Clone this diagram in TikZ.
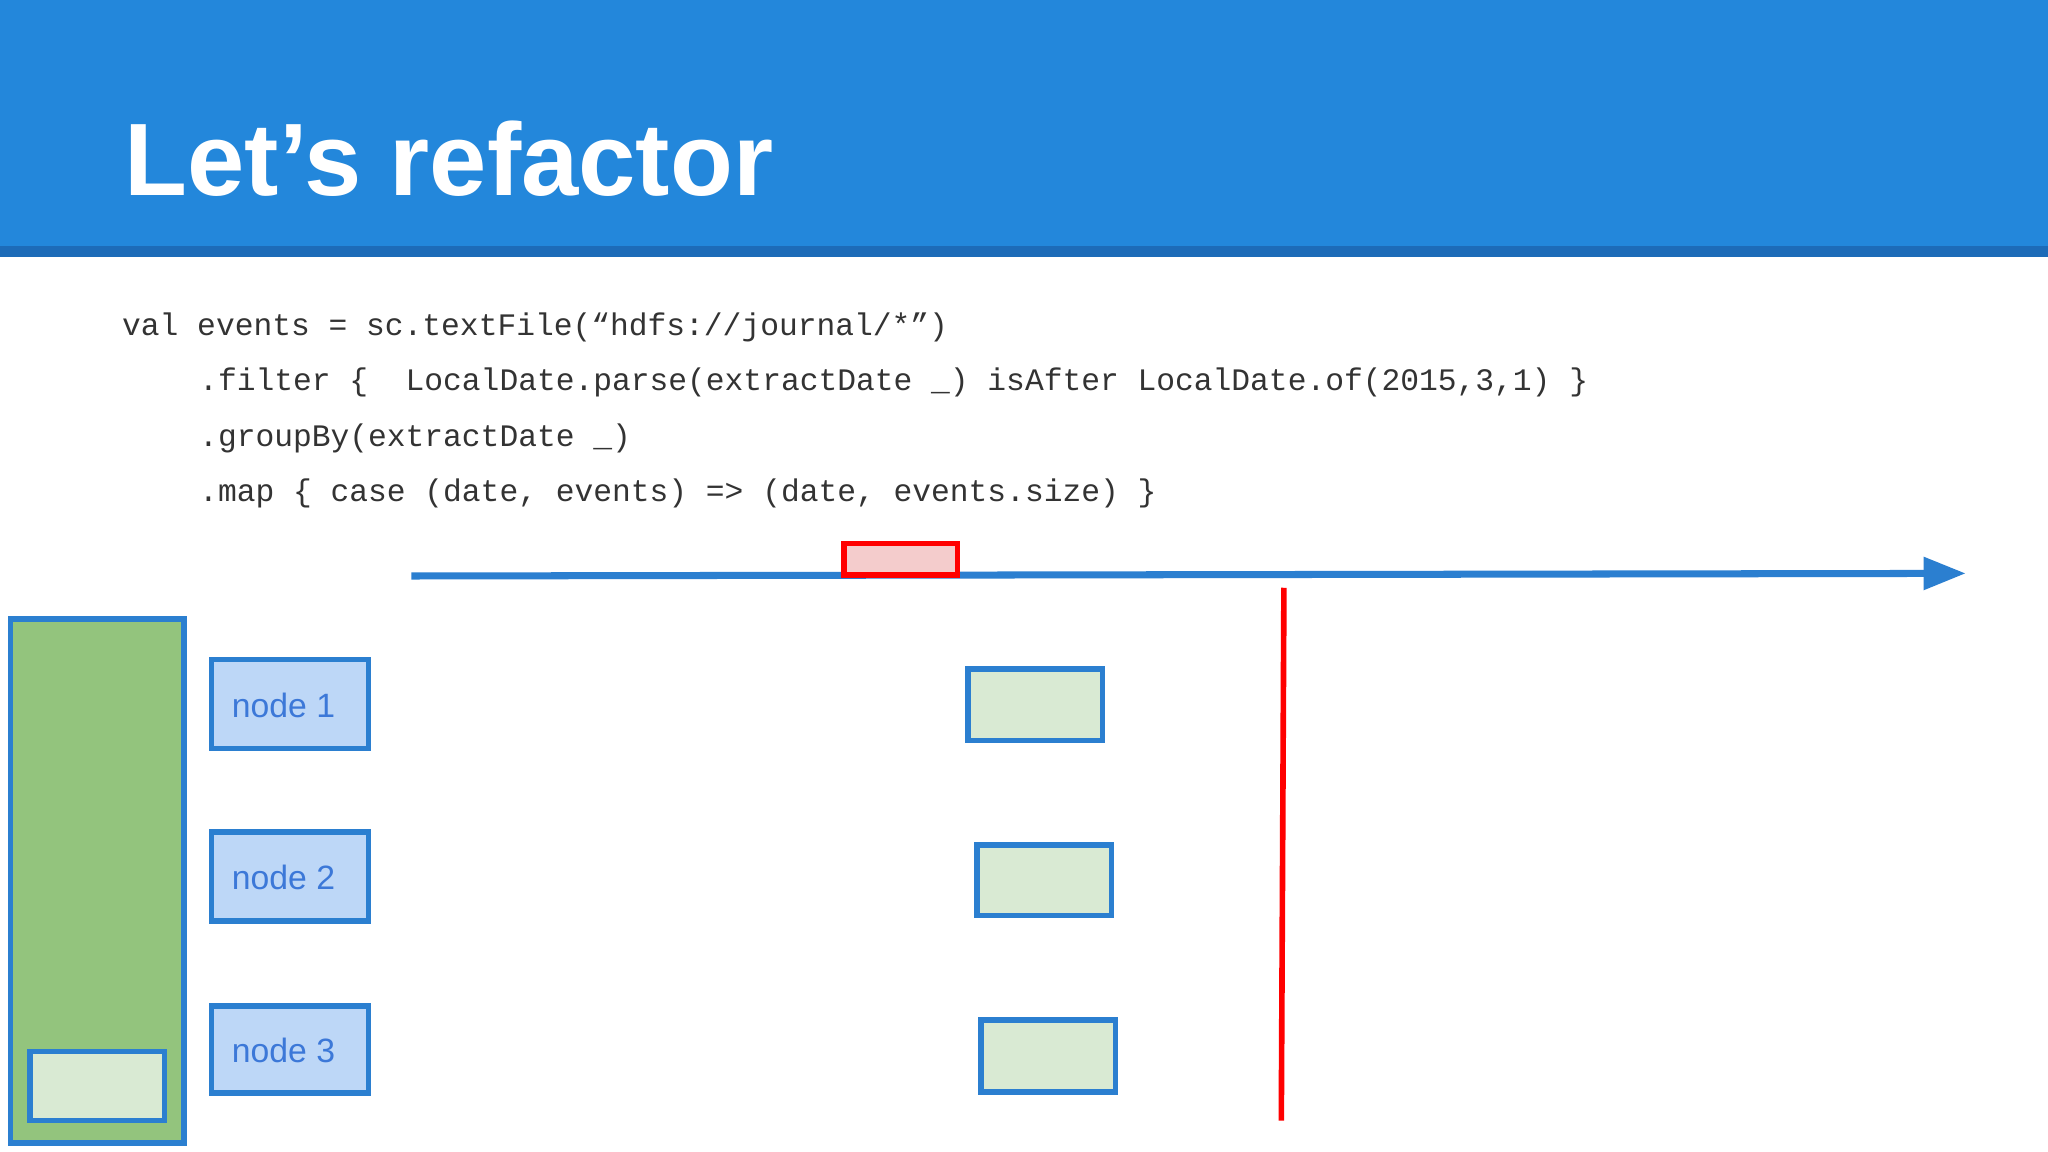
\documentclass[tikz,border=0pt]{standalone}
\usepackage{fontspec}
\setmainfont{Liberation Sans}
\newfontfamily\codefont{Liberation Mono}
\usetikzlibrary{arrows.meta}
\definecolor{hdr}{HTML}{2387DB}
\definecolor{hdrdark}{HTML}{1D6BB8}
\definecolor{bl}{HTML}{2B7FD0}
\definecolor{nodefill}{HTML}{BDD7F7}
\definecolor{nodetxt}{HTML}{3C78D8}
\definecolor{lgreen}{HTML}{D9EAD3}
\definecolor{dgreen}{HTML}{93C47D}
\definecolor{pink}{HTML}{F4CCCC}
\definecolor{codec}{HTML}{333333}
\tikzset{
 box/.style={draw=bl,line width=1.6pt},
 codeline/.style={anchor=base west,inner sep=0pt,text=codec,font=\codefont\fontsize{8.9pt}{11pt}\selectfont},
 nodebox/.style={box,fill=nodefill},
 nlabel/.style={anchor=west,text=nodetxt,font=\fontsize{9.6pt}{11pt}\selectfont,inner sep=0pt}
}
\begin{document}
\begin{tikzpicture}[x=0.013061cm,y=-0.013061cm]
\useasboundingbox (0,0) rectangle (1568,882);
\fill[white] (0,0) rectangle (1568,882);
\fill[hdr] (0,0) rectangle (1568,189);
\fill[hdrdark] (0,188) rectangle (1568,197);
\node[anchor=base west,inner sep=0pt,text=white,font=\bfseries\fontsize{29.3pt}{33pt}\selectfont] (title) at (95,150) {Let{\char"27}s refactor};
\node[codeline] (c1) at (93,257) {val events = sc.textFile(“hdfs://journal/*”)};
\node[codeline] (c2) at (152,299) {.filter \{ ~LocalDate.parse(extractDate \_) isAfter LocalDate.of(2015,3,1) \}};
\node[codeline] (c3) at (152,342) {.groupBy(extractDate \_)};
\node[codeline] (c4) at (152,384) {.map \{ case (date, events) => (date, events.size) \}};
\coordinate (as) at (315,441);
\coordinate (ae) at (1505,439);
\draw[bl,line width=2pt,-{Triangle[length=12pt,width=9pt]}] (as) -- (ae);
\draw[red,line width=1.6pt,fill=pink] (646,416) rectangle (733,440);
\coordinate (rt) at (983,450);
\coordinate (rb) at (981,858);
\draw[red,line width=1.6pt] (rt) -- (rb);
\draw[box,fill=dgreen] (8,474) rectangle (141,875);
\draw[box,fill=lgreen] (23,805) rectangle (126,858);
\draw[nodebox] (162,505) rectangle (282,573);
\node[nlabel] (n1) at (177,540) {node 1};
\draw[nodebox] (162,637) rectangle (282,705);
\node[nlabel] (n2) at (177,672) {node 2};
\draw[nodebox] (162,770) rectangle (282,837);
\node[nlabel] (n3) at (177,804) {node 3};
\draw[box,fill=lgreen] (741,512) rectangle (844,567);
\draw[box,fill=lgreen] (748,647) rectangle (851,701);
\draw[box,fill=lgreen] (751,781) rectangle (854,836);
\end{tikzpicture}
\end{document}
